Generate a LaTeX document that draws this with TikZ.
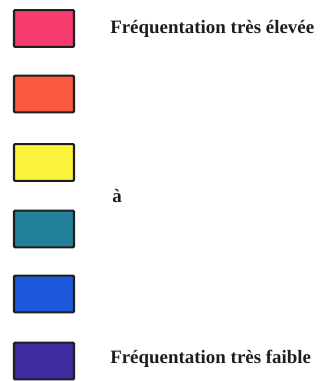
\documentclass[tikz,border=0pt]{standalone}
\usepackage{fontspec}
\setmainfont{Liberation Serif}
\definecolor{c1}{HTML}{F63C6E}
\definecolor{c2}{HTML}{FA5A40}
\definecolor{c3}{HTML}{FAF43C}
\definecolor{c4}{HTML}{22809A}
\definecolor{c5}{HTML}{1C58DA}
\definecolor{c6}{HTML}{3C2CA0}
\definecolor{ink}{HTML}{1E1E1E}
\begin{document}
\begin{tikzpicture}[x=0.75pt,y=-0.75pt,
  swatch/.style={draw=ink,line width=1.6pt,rounded corners=0.8pt,minimum width=45pt,minimum height=27.5pt,inner sep=0pt},
  lbl/.style={anchor=base west,inner sep=0pt,font=\fontsize{14.2}{16}\selectfont\bfseries,text=ink}]
\useasboundingbox (0,0) rectangle (328,381);
\node[swatch,fill=c1] (s1) at (44,28.5) {};
\node[swatch,fill=c2] (s2) at (44,94) {};
\node[swatch,fill=c3] (s3) at (44,162.5) {};
\node[swatch,fill=c4] (s4) at (44,229) {};
\node[swatch,fill=c5] (s5) at (44,294) {};
\node[swatch,fill=c6] (s6) at (44,361) {};
\node[lbl] (t1) at (110,33.5) {Fréquentation très élevée};
\node[lbl] (t2) at (112,202) {à};
\node[lbl] (t3) at (110,363.5) {Fréquentation très faible};
\end{tikzpicture}
\end{document}
